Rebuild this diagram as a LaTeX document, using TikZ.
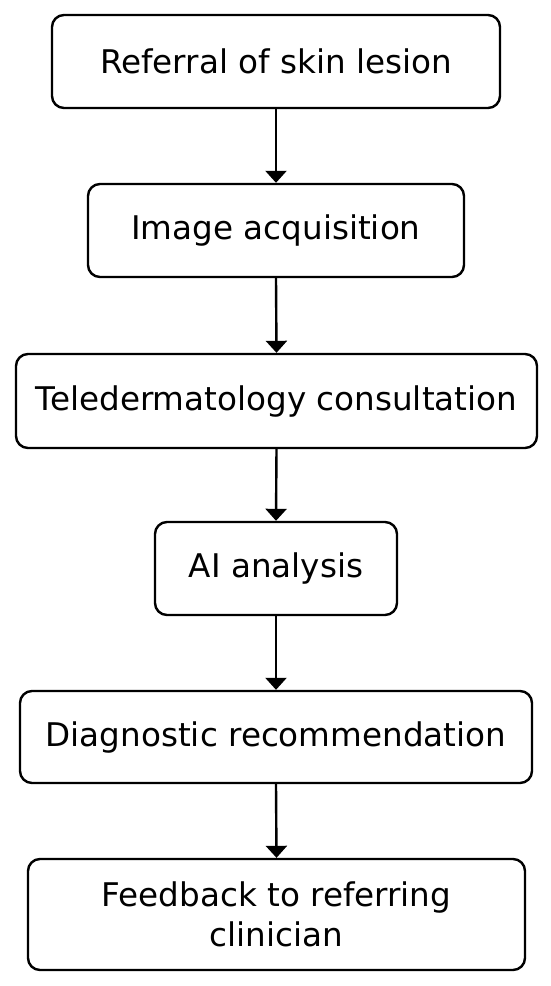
\documentclass[tikz,border=0pt]{standalone}
\usepackage{fontspec}
\setmainfont{DejaVu Sans}
\usetikzlibrary{arrows.meta}
\begin{document}
\begin{tikzpicture}[x=1pt,y=-1pt,
  box/.style={draw=black, line width=2.4pt, rounded corners=12pt, fill=white,
    inner sep=0pt, align=center, font=\fontsize{32.6}{40}\selectfont, text=black},
  conn/.style={line width=2.4pt, -{Triangle[length=12pt,width=21pt]}}]
\useasboundingbox[fill=white] (0,0) rectangle (550,986);
\node[box, minimum width=448, minimum height=93] (n1) at (276,61.5) {Referral of skin lesion};
\node[box, minimum width=376, minimum height=93] (n2) at (276,230.5) {Image acquisition};
\node[box, minimum width=521, minimum height=94] (n3) at (276.5,401) {Teledermatology consultation};
\node[box, minimum width=242, minimum height=93] (n4) at (276,568.5) {AI analysis};
\node[box, minimum width=512, minimum height=92] (n5) at (276,737) {Diagnostic recommendation};
\node[box, minimum width=497, minimum height=111] (n6) at (276.5,914.5) {Feedback to referring\\clinician};
\draw[conn] (n1.south) -- (n2.north);
\draw[conn] (n2.south) -- (n3.north);
\draw[conn] (n3.south) -- (n4.north);
\draw[conn] (n4.south) -- (n5.north);
\draw[conn] (n5.south) -- (n6.north);
\end{tikzpicture}
\end{document}
